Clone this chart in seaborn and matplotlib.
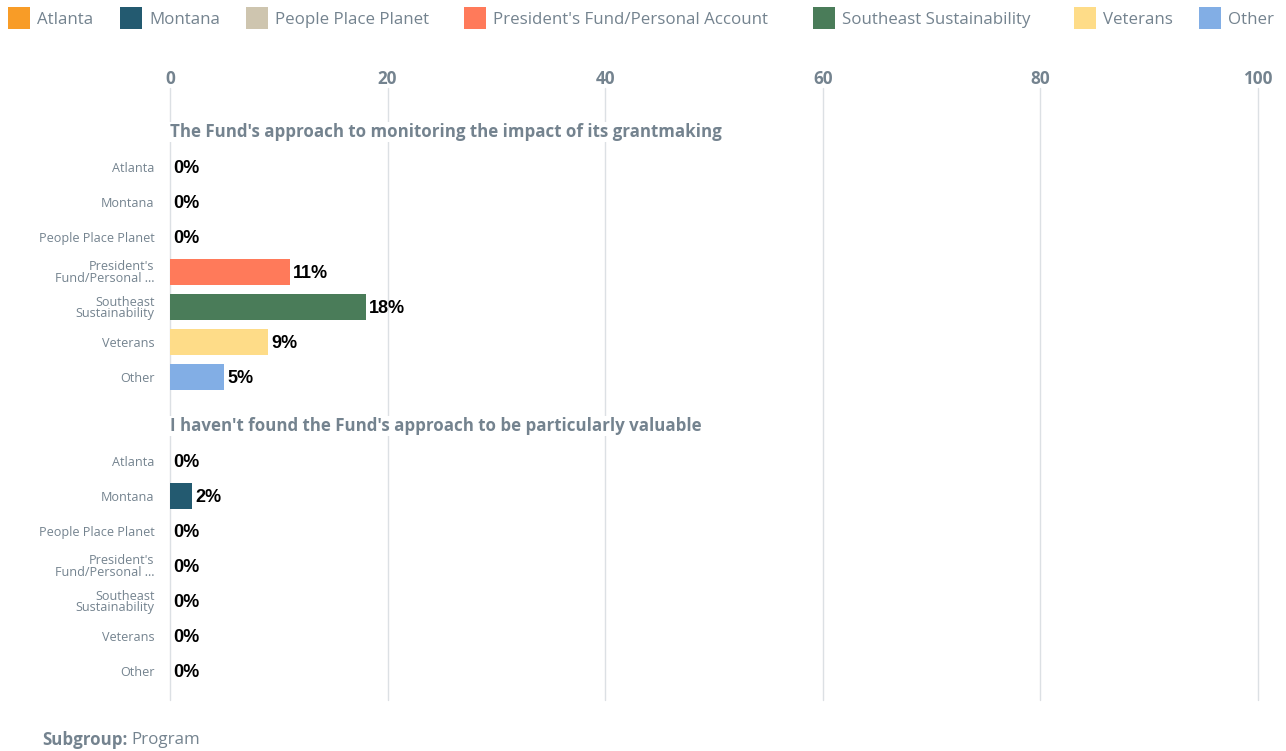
import matplotlib
matplotlib.use("Agg")
import matplotlib.pyplot as plt
import seaborn as sns
import pandas as pd
from matplotlib.patches import Rectangle

# ---- data ----
programs = ["Atlanta", "Montana", "People Place Planet",
            "President's Fund/Personal Account", "Southeast Sustainability",
            "Veterans", "Other"]
tick_labels = ["Atlanta", "Montana", "People Place Planet",
               "President's\nFund/Personal ...", "Southeast\nSustainability",
               "Veterans", "Other"]
questions = ["The Fund's approach to monitoring the impact of its grantmaking",
             "I haven't found the Fund's approach to be particularly valuable"]
q1_values = [0, 0, 0, 11, 18, 9, 5]
q2_values = [0, 2, 0, 0, 0, 0, 0]
colors = ["#F89C27", "#235A70", "#CEC5AF", "#FF7A5A", "#4A7C59", "#FEDC88", "#82AEE5"]
x_ticks = [0, 20, 40, 60, 80, 100]

# ---- layout ----
W, H = 1286, 751
GROUP_STEP = 8.4
TITLE_OFF = -1.0
GREY = "#74838F"
GRID = "#DCE0E4"
FONT = "Open Sans"

rows = []
for gi, vals in enumerate([q1_values, q2_values]):
    for i, (p, v) in enumerate(zip(programs, vals)):
        rows.append({"pos": gi * GROUP_STEP + i, "value": v, "program": p,
                     "label": tick_labels[i], "group": gi})
df = pd.DataFrame(rows)

sns.set_theme(style="white")
plt.rcParams["font.family"] = [FONT, "DejaVu Sans"]

fig = plt.figure(figsize=(W / 100, H / 100), dpi=100)
ax = fig.add_axes([170 / W, 1 - 700 / H, (1258 - 170) / W, (700 - 88) / H])

sns.barplot(data=df, x="value", y="pos", hue="program", hue_order=programs,
            palette=colors, orient="h", native_scale=True, dodge=False,
            width=0.74, legend=False, ax=ax, linewidth=0, saturation=1)

ax.set_xlim(0, 100)
ax.set_ylim((700 - 167) / 35, (88 - 167) / 35)
ax.set_xlabel("")
ax.set_ylabel("")
for s in ax.spines.values():
    s.set_visible(False)

ax.xaxis.tick_top()
ax.set_xticks(x_ticks)
ax.set_xticklabels([str(t) for t in x_ticks], fontsize=12.3, fontweight="bold",
                   color=GREY, family=FONT)
ax.tick_params(axis="x", length=0, pad=0)
for t in x_ticks:
    ax.axvline(t, color=GRID, linewidth=1.0, zorder=0, clip_on=False)

ax.set_yticks(df["pos"])
ax.set_yticklabels(df["label"], fontsize=9.1, color=GREY, family=FONT,
                   linespacing=0.9)
ax.tick_params(axis="y", length=0, pad=11)

# value labels
for _, r in df.iterrows():
    ax.text(r["value"] + 0.3, r["pos"] + 0.03, f"{r['value']:.0f}%", ha="left",
            va="center", fontsize=13, fontweight="bold", color="black",
            family=["Liberation Sans", "DejaVu Sans"])

# question titles
for gi, q in enumerate(questions):
    ax.text(0, gi * GROUP_STEP + TITLE_OFF, q, ha="left", va="center",
            fontsize=12.2, fontweight="bold", color=GREY, family=FONT,
            bbox=dict(facecolor="white", edgecolor="none", pad=1))

# legend
leg_x = [8, 120, 246, 464, 813, 1074, 1199]
for x, p, c in zip(leg_x, programs, colors):
    fig.patches.append(Rectangle((x / W, 1 - 29 / H), 22 / W, 22 / H,
                                 transform=fig.transFigure, facecolor=c,
                                 edgecolor="none"))
    fig.text((x + 29) / W, 1 - 20 / H, p, ha="left", va="center",
             fontsize=12.2, color=GREY, family=FONT)

# subgroup footer
t1 = fig.text(42 / W, 1 - 740 / H, "Subgroup:", ha="left", va="center",
              fontsize=12.2, fontweight="bold", color=GREY, family=FONT)
fig.canvas.draw()
bb = t1.get_window_extent()
fig.text(bb.x1 / W + 4 / W, 1 - 740 / H, "Program", ha="left", va="center",
         fontsize=12.2, color=GREY, family=FONT)

fig.savefig("out.png", dpi=100)
